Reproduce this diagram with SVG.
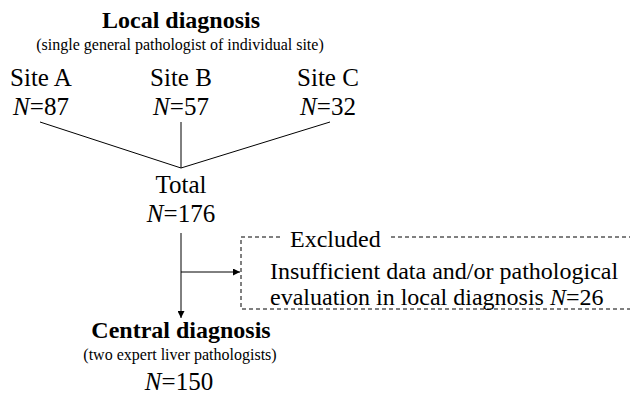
<svg xmlns="http://www.w3.org/2000/svg" width="630" height="404" viewBox="0 0 630 404">
<style>
text{font-family:"Liberation Serif","Times New Roman",serif;fill:#000}
.h{font-size:24px;font-weight:bold;text-anchor:middle}
.s{font-size:16px;text-anchor:middle}
.t{font-size:25px;text-anchor:middle}
.b{font-size:24px}
.ln{stroke:#000;stroke-width:1;fill:none}
.d{stroke:#000;stroke-width:1;fill:none;stroke-dasharray:4,3}
</style>
<defs>
<marker id="ah" viewBox="0 0 10 10" refX="10" refY="5" markerWidth="7" markerHeight="7" markerUnits="userSpaceOnUse" orient="auto">
<path d="M0,0L10,5L0,10z" fill="#000"/>
</marker>
</defs>
<g id="local">
<text class="h" x="181" y="28">Local diagnosis</text>
<text class="s" x="180" y="50">(single general pathologist of individual site)</text>
</g>
<g id="siteA">
<text class="t" x="41" y="86">Site A</text>
<text class="t" x="41" y="115"><tspan font-style="italic">N</tspan>=87</text>
</g>
<g id="siteB">
<text class="t" x="181" y="86">Site B</text>
<text class="t" x="181" y="115"><tspan font-style="italic">N</tspan>=57</text>
</g>
<g id="siteC">
<text class="t" x="328" y="86">Site C</text>
<text class="t" x="328" y="115"><tspan font-style="italic">N</tspan>=32</text>
</g>
<g id="total">
<text class="t" x="181" y="193">Total</text>
<text class="t" x="181" y="222"><tspan font-style="italic">N</tspan>=176</text>
</g>
<g id="excluded">
<path class="d" d="M280,237H241V309H630"/>
<path class="d" d="M391,237H630"/>
<text class="b" x="290" y="247">Excluded</text>
<text class="b" x="270" y="279">Insufficient data and/or pathological</text>
<text class="b" x="270" y="305">evaluation in local diagnosis <tspan font-style="italic">N</tspan>=26</text>
</g>
<g id="central">
<text class="h" x="181" y="338">Central diagnosis</text>
<text class="s" x="180" y="360">(two expert liver pathologists)</text>
<text class="t" x="179" y="390"><tspan font-style="italic">N</tspan>=150</text>
</g>
<g id="connectors">
<path class="ln" d="M40,122L181,168L330,122"/>
<path class="ln" d="M181,122V168"/>
<path class="ln" d="M181,233V318" marker-end="url(#ah)"/>
<path class="ln" d="M181,272H240" marker-end="url(#ah)"/>
</g>
</svg>
